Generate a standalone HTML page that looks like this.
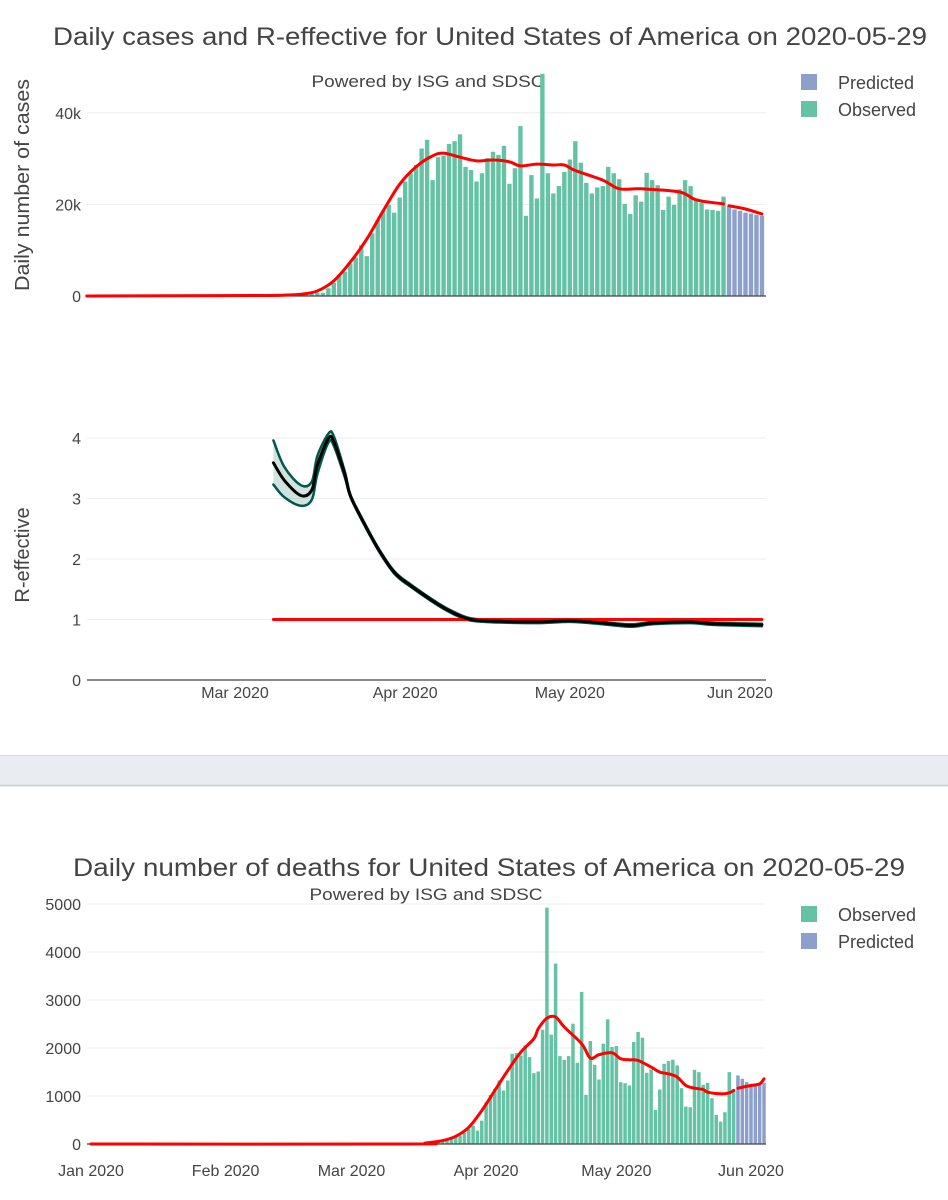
<!DOCTYPE html>
<html><head><meta charset="utf-8"><style>
html,body{margin:0;padding:0;background:#fff;}
svg{display:block;font-family:"Liberation Sans","DejaVu Sans",sans-serif;}
</style></head>
<body>
<svg id="chart" width="948" height="1200" viewBox="0 0 948 1200">
  <rect x="0" y="755" width="948" height="31" fill="#e9ecf1"/>
  <line x1="0" y1="755.5" x2="948" y2="755.5" stroke="#d6d9df"/>
  <line x1="0" y1="785.5" x2="948" y2="785.5" stroke="#d0d3da" stroke-width="2"/>

  <text x="490" y="45" text-anchor="middle" font-size="25" fill="#444" textLength="874" lengthAdjust="spacingAndGlyphs">Daily cases and R-effective for United States of America on 2020-05-29</text>
  <text x="428" y="87" text-anchor="middle" font-size="17" fill="#444" textLength="233" lengthAdjust="spacingAndGlyphs">Powered by ISG and SDSC</text>
  <text transform="translate(29,185) rotate(-90)" text-anchor="middle" font-size="20" fill="#444" textLength="212" lengthAdjust="spacingAndGlyphs">Daily number of cases</text>
  <text transform="translate(29,555) rotate(-90)" text-anchor="middle" font-size="20" fill="#444">R-effective</text>

  <g>
    <rect x="801" y="74" width="16" height="16" fill="#8da0cb"/>
    <text x="838" y="89" font-size="18" fill="#444">Predicted</text>
    <rect x="801" y="101" width="16" height="16" fill="#66c2a5"/>
    <text x="838" y="116" font-size="18" fill="#444">Observed</text>
  </g>

  <text x="489" y="876" text-anchor="middle" font-size="25" fill="#444" textLength="832" lengthAdjust="spacingAndGlyphs">Daily number of deaths for United States of America on 2020-05-29</text>
  <text x="426" y="900" text-anchor="middle" font-size="17" fill="#444" textLength="233" lengthAdjust="spacingAndGlyphs">Powered by ISG and SDSC</text>
  <g>
    <rect x="801" y="906" width="16" height="16" fill="#66c2a5"/>
    <text x="838" y="921" font-size="18" fill="#444">Observed</text>
    <rect x="801" y="933" width="16" height="16" fill="#8da0cb"/>
    <text x="838" y="948" font-size="18" fill="#444">Predicted</text>
  </g>
  <g id="plots"></g>
</svg>
<script>
// ---------- Cases chart data ----------
const caseEarlyDates = ['2020-03-08','2020-03-09','2020-03-10','2020-03-11','2020-03-12','2020-03-13','2020-03-14','2020-03-15'];
const caseEarlyValues = [0.05,0.1,0.1,0.15,0.2,0.3,0.3,0.4];
const caseObsStart = '2020-03-16';
const caseObsValues = [0.7,0.7,1.7,2.9,4.6,5.3,7.1,8.4,11.1,8.7,13.7,16.6,18.6,19.9,18.2,21.5,25.0,26.8,28.6,32.2,34.1,25.3,30.3,30.6,33.2,33.8,35.3,28.2,27.5,25.0,26.8,30.1,31.5,30.8,32.8,24.5,27.9,37.1,17.5,26.4,21.3,48.5,26.8,22.4,24.0,27.1,29.8,33.8,29.1,24.7,22.4,23.7,24.0,28.2,26.8,25.5,20.1,17.9,22.0,20.6,26.9,25.3,24.2,18.8,21.7,19.9,23.3,25.3,24.0,21.3,20.4,18.9,18.8,18.6,21.7];
const casePredStart = '2020-05-30';
const casePredValues = [19.7,18.9,18.6,18.2,18.0,17.7,17.5];
const caseLineDates = ['2020-02-03','2020-03-05','2020-03-10','2020-03-13','2020-03-16','2020-03-19','2020-03-22','2020-03-25','2020-03-28','2020-03-31','2020-04-03','2020-04-06','2020-04-08','2020-04-11','2020-04-14','2020-04-17','2020-04-20','2020-04-22','2020-04-25','2020-04-28','2020-04-30','2020-05-02','2020-05-07','2020-05-10','2020-05-14','2020-05-21','2020-05-24','2020-05-29'];
const caseLineValues = [0,0.1,0.2,0.4,1.1,3.3,7.4,12.4,18.6,24.4,28.2,30.6,31.2,30.3,29.5,29.7,29.3,28.4,28.8,28.6,28.6,27.4,25.3,23.4,23.4,22.7,21.0,20.1];
const casePredLineDates = ['2020-05-30','2020-06-02','2020-06-05'];
const casePredLineValues = [19.7,19.0,17.9];
const caseTicks = [0,20,40];
const caseTickLabels = ['0','20k','40k'];

// ---------- R-effective data ----------
const rDates = ['2020-03-08','2020-03-10','2020-03-13','2020-03-15','2020-03-16','2020-03-18','2020-03-19','2020-03-21','2020-03-22','2020-03-24','2020-03-27','2020-03-30','2020-04-02','2020-04-07','2020-04-10','2020-04-13','2020-04-18','2020-04-25','2020-05-01','2020-05-06','2020-05-12','2020-05-16','2020-05-23','2020-05-27','2020-06-05'];
const rMean = [3.59,3.30,3.05,3.14,3.55,3.99,3.94,3.40,3.05,2.68,2.18,1.78,1.56,1.25,1.10,1.00,0.97,0.96,0.98,0.95,0.90,0.94,0.96,0.93,0.91];
const rUpper = [3.96,3.52,3.22,3.28,3.70,4.07,4.03,3.45,3.07,2.70,2.20,1.80,1.58,1.27,1.12,1.02,0.99,0.98,1.00,0.97,0.92,0.96,0.98,0.95,0.93];
const rLower = [3.23,3.02,2.88,2.98,3.40,3.92,3.87,3.35,3.03,2.66,2.16,1.76,1.54,1.23,1.08,0.98,0.95,0.94,0.96,0.93,0.88,0.92,0.94,0.91,0.89];
const rRefDates = ['2020-03-08','2020-06-05'];
const rRefValues = [1,1];
const rTicks = [0,1,2,3,4];
const topXTicks = ['2020-03-01','2020-04-01','2020-05-01','2020-06-01'];
const topXLabels = ['Mar 2020','Apr 2020','May 2020','Jun 2020'];

// ---------- Deaths data ----------
const deathEarlyDates = ['2020-03-14','2020-03-15','2020-03-16','2020-03-17','2020-03-18','2020-03-19','2020-03-20'];
const deathEarlyValues = [5,8,12,20,25,30,30];
const deathObsStart = '2020-03-21';
const deathObsValues = [35,49,70,104,140,174,230,313,383,279,487,870,1024,1150,1323,1114,1323,1880,1894,1845,2054,1810,1476,1511,2381,4924,2277,3760,1831,1755,1831,2507,1692,3169,1024,2145,1650,1344,2089,2597,2020,2040,1288,1267,1219,2124,2333,2215,1483,1553,710,1135,1671,1727,1755,1637,1163,780,766,1546,1497,1233,1274,954,606,466,662,1497,1149];
const deathPredStart = '2020-05-29';
const deathPredValues = [1428,1358,1288,1253,1233,1253,1274];
const deathLineDates = ['2020-01-01','2020-03-14','2020-03-18','2020-03-22','2020-03-25','2020-03-28','2020-03-31','2020-04-03','2020-04-06','2020-04-09','2020-04-12','2020-04-13','2020-04-15','2020-04-17','2020-04-19','2020-04-23','2020-04-25','2020-04-27','2020-04-30','2020-05-02','2020-05-04','2020-05-06','2020-05-09','2020-05-11','2020-05-13','2020-05-15','2020-05-17','2020-05-19','2020-05-21','2020-05-22','2020-05-25','2020-05-27','2020-05-28'];
const deathLineValues = [0,0,21,70,160,348,696,1114,1532,1915,2193,2400,2620,2646,2437,2089,1790,1860,1900,1775,1755,1740,1602,1497,1462,1393,1219,1163,1135,1080,1045,1066,1114];
const deathPredLineDates = ['2020-05-29','2020-06-01','2020-06-03','2020-06-04'];
const deathPredLineValues = [1163,1219,1253,1358];
const deathTicks = [0,1000,2000,3000,4000,5000];
const deathXTicks = ['2020-01-01','2020-02-01','2020-03-01','2020-04-01','2020-05-01','2020-06-01'];
const deathXLabels = ['Jan 2020','Feb 2020','Mar 2020','Apr 2020','May 2020','Jun 2020'];

const NS = 'http://www.w3.org/2000/svg';
const root = document.getElementById('plots');
function mk(tag, attrs, parent){ const e=document.createElementNS(NS,tag); for(const k in attrs) e.setAttribute(k,attrs[k]); (parent||root).appendChild(e); return e; }
function dnum(s){ const p=s.split('-').map(Number); return Date.UTC(p[0],p[1]-1,p[2])/864e5; }
function addDays(s,n){ const d=new Date((dnum(s)+n)*864e5); return d.toISOString().slice(0,10); }

const MAR1 = dnum('2020-03-01'), JAN1 = dnum('2020-01-01');
const xTop = s => 235 + (dnum(s)-MAR1)*5.489;
const yCases = v => 296 - v*4.58;
const yR = v => 680 - v*60.5;
const xDeath = s => 91 + (dnum(s)-JAN1)*4.342;
const yDeath = v => 1144 - v*0.048;
const L=87, R=766;

function grid(ticks, yf, labels, name){
  ticks.forEach((t,i)=>{
    const y=yf(t);
    if(t!==0){ const g=mk('line',{x1:L,x2:R,y1:y,y2:y,stroke:'#eee','stroke-width':1});
      
       }
    const tx=mk('text',{x:81,y:y+6,'text-anchor':'end','font-size':16,fill:'#444'});
    tx.textContent = labels ? labels[i] : String(t);
    
    
  });
}
function zero(y,name){
  const z=mk('line',{x1:L,x2:R,y1:y,y2:y,stroke:'#444','stroke-width':1.2});
  
  
}
function bars(start, vals, xf, yf, w, color, name, datesArr){
  vals.forEach((v,i)=>{
    const d = datesArr ? datesArr[i] : addDays(start,i);
    const x=xf(d), y=yf(v), y0=yf(0);
    const b=mk('rect',{x:x-w/2,y:y,width:w,height:y0-y,fill:color});
    
    
  });
}
function smoothPath(pts){
  let d='M'+pts[0][0].toFixed(1)+','+pts[0][1].toFixed(1);
  for(let i=0;i<pts.length-1;i++){
    const p0=pts[Math.max(0,i-1)], p1=pts[i], p2=pts[i+1], p3=pts[Math.min(pts.length-1,i+2)];
    const t=0.5/3;
    const c1=[p1[0]+(p2[0]-p0[0])*t, p1[1]+(p2[1]-p0[1])*t];
    const c2=[p2[0]-(p3[0]-p1[0])*t, p2[1]-(p3[1]-p1[1])*t];
    d+=' C'+c1[0].toFixed(1)+','+c1[1].toFixed(1)+' '+c2[0].toFixed(1)+','+c2[1].toFixed(1)+' '+p2[0].toFixed(1)+','+p2[1].toFixed(1);
  }
  return d;
}
function line(dates, vals, xf, yf, color, width, name){
  const pts=dates.map((d,i)=>[xf(d), yf(vals[i])]);
  const e=mk('path',{d:smoothPath(pts),fill:'none',stroke:color,'stroke-width':width,'stroke-linejoin':'round','stroke-linecap':'round'});
  
  
  return e;
}
function xlabels(ticks, labels, xf, y, name){
  ticks.forEach((t,i)=>{
    const tx=mk('text',{x:xf(t),y:y,'text-anchor':'middle','font-size':16,fill:'#444'});
    tx.textContent=labels[i];
    
    
  });
}

// ---- cases chart ----
grid(caseTicks, yCases, caseTickLabels, 'cases-y');
bars(null, caseEarlyValues, xTop, yCases, 4.4, '#66c2a5', 'cases-bar-observed', caseEarlyDates);
bars(caseObsStart, caseObsValues, xTop, yCases, 4.4, '#66c2a5', 'cases-bar-observed');
bars(casePredStart, casePredValues, xTop, yCases, 4.4, '#8da0cb', 'cases-bar-predicted');
zero(yCases(0),'cases-zero-line');
line(caseLineDates, caseLineValues, xTop, yCases, '#ff0000', 3, 'cases-smoothed-line');
line(casePredLineDates, casePredLineValues, xTop, yCases, '#ff0000', 3, 'cases-predicted-line');

// ---- R chart ----
grid(rTicks, yR, null, 'r-y');
zero(yR(0),'r-zero-line');
const upPts = rDates.map((d,i)=>[xTop(d), yR(rUpper[i])]);
const loPts = rDates.map((d,i)=>[xTop(d), yR(rLower[i])]).reverse();
const bandD = smoothPath(upPts) + ' L' + smoothPath(loPts).slice(1) + ' Z';
const band=mk('path',{d:bandD,fill:'rgba(0,100,80,0.18)',stroke:'none'});


line(rDates, rUpper, xTop, yR, '#005a4a', 2.5, 'r-upper-bound');
line(rDates, rLower, xTop, yR, '#005a4a', 2.5, 'r-lower-bound');
line(rRefDates, rRefValues, xTop, yR, '#ff0000', 3, 'r-threshold-line');
line(rDates, rMean, xTop, yR, '#000', 3, 'r-effective-line');
xlabels(topXTicks, topXLabels, xTop, 698, 'r-x-tick-label');

// ---- deaths chart ----
grid(deathTicks, yDeath, null, 'deaths-y');
bars(null, deathEarlyValues, xDeath, yDeath, 3.5, '#66c2a5', 'deaths-bar-observed', deathEarlyDates);
bars(deathObsStart, deathObsValues, xDeath, yDeath, 3.5, '#66c2a5', 'deaths-bar-observed');
bars(deathPredStart, deathPredValues, xDeath, yDeath, 3.5, '#8da0cb', 'deaths-bar-predicted');
zero(yDeath(0),'deaths-zero-line');
line(deathLineDates, deathLineValues, xDeath, yDeath, '#ff0000', 3, 'deaths-smoothed-line');
line(deathPredLineDates, deathPredLineValues, xDeath, yDeath, '#ff0000', 3, 'deaths-predicted-line');
xlabels(deathXTicks, deathXLabels, xDeath, 1176, 'deaths-x-tick-label');
</script>
</body></html>
